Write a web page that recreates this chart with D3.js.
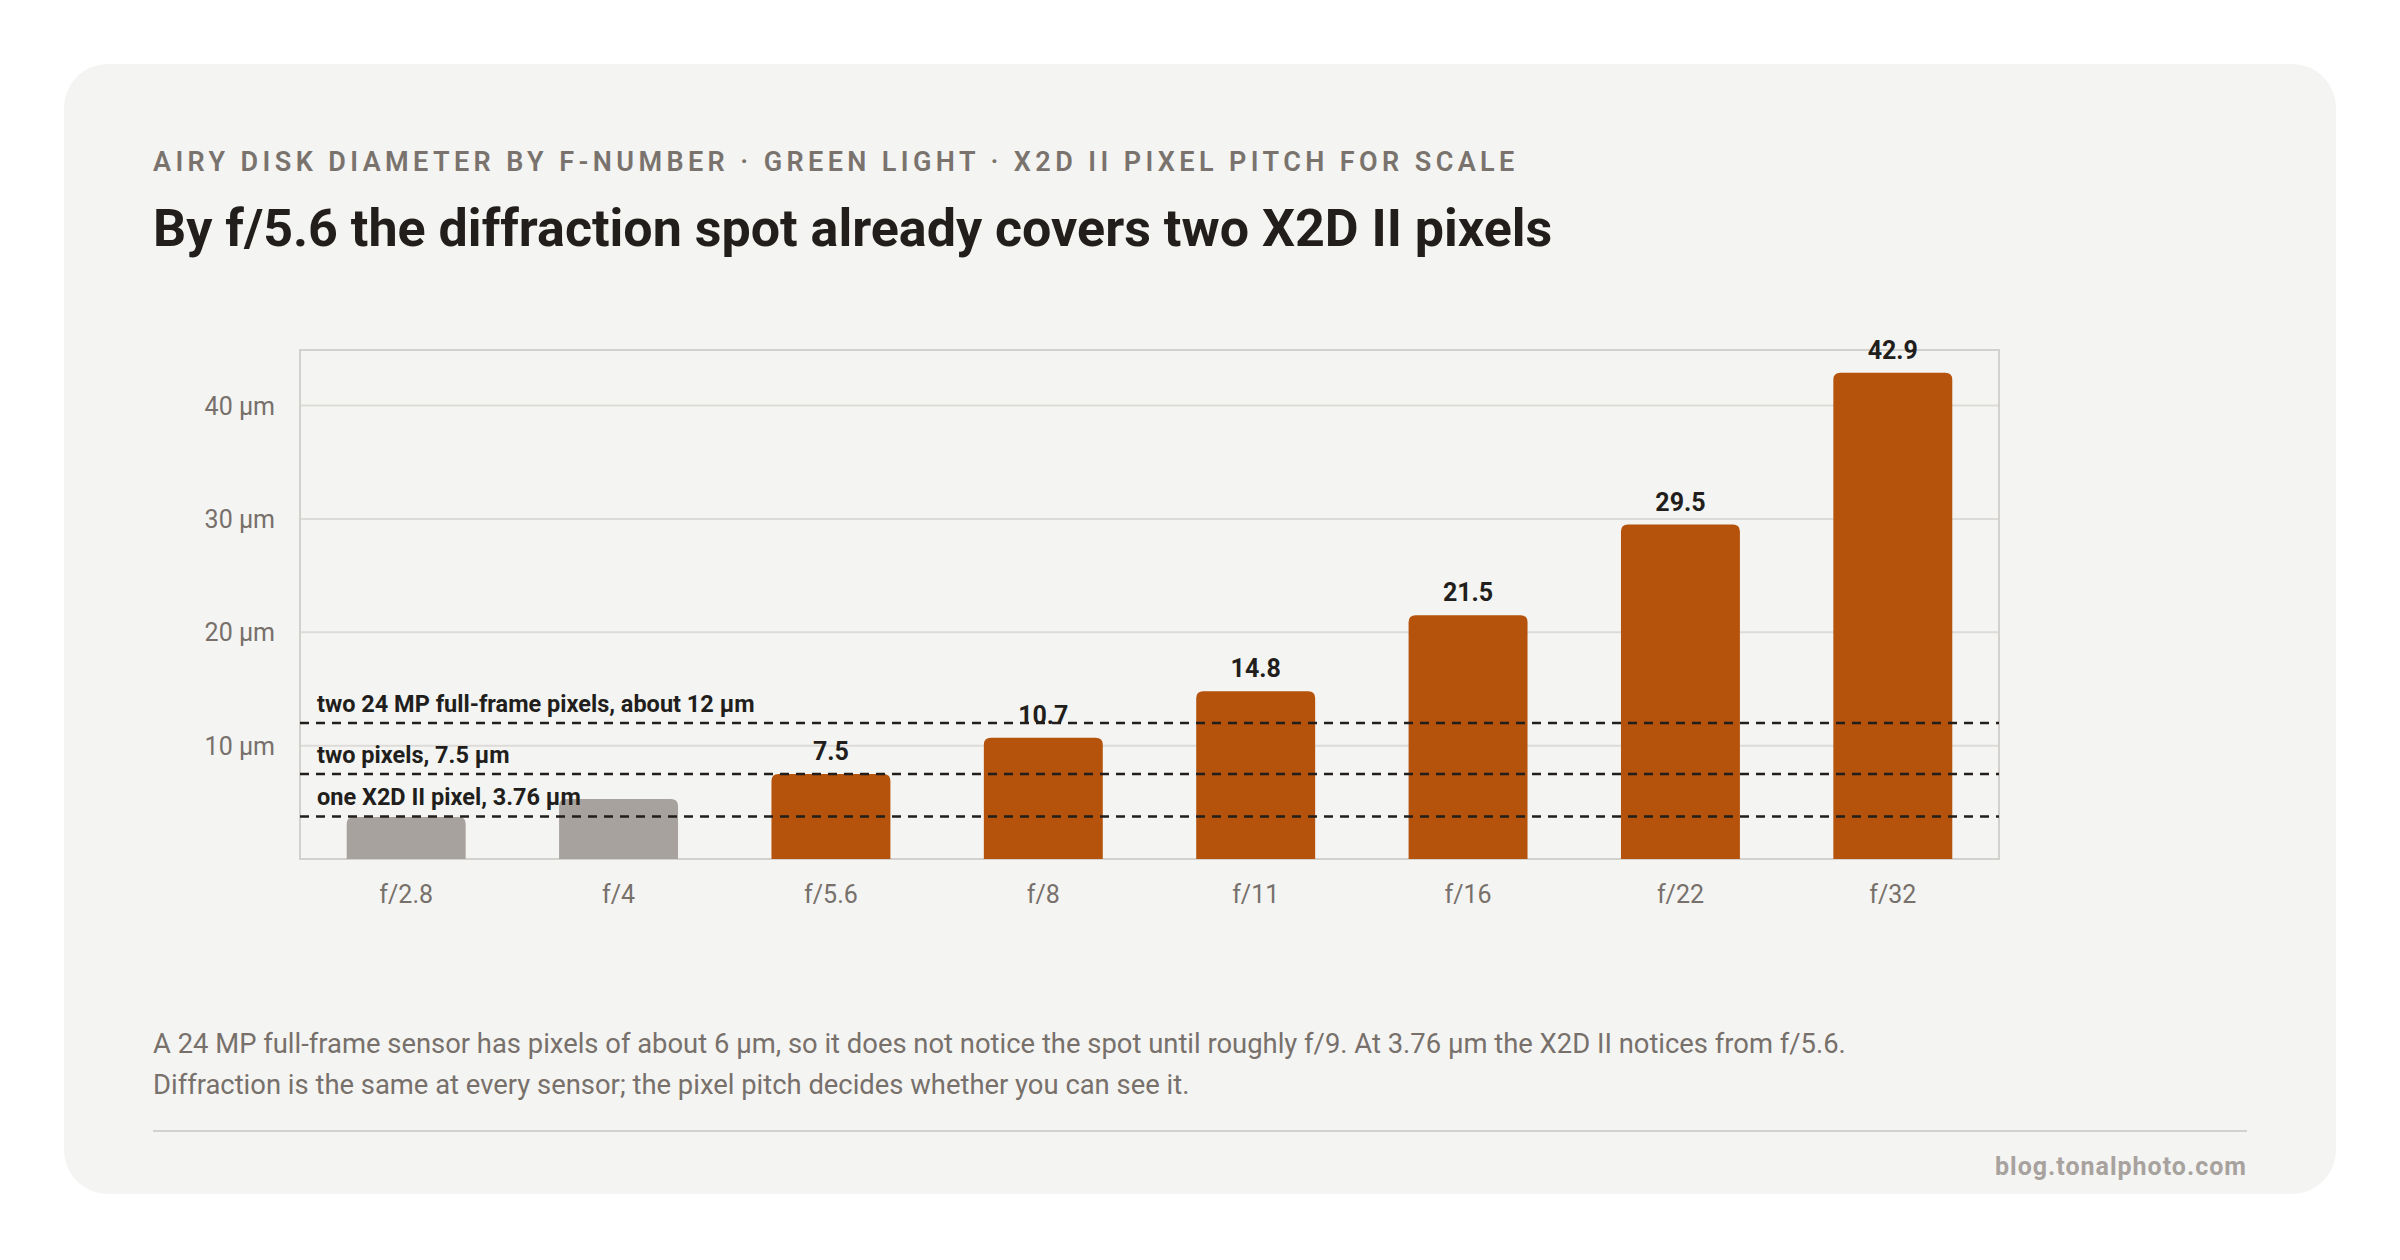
<!DOCTYPE html>
<html lang="en">
<head>
<meta charset="UTF-8">
<title>Airy disk</title>
<script src="https://d3js.org/d3.v7.min.js"></script>
<style>
  body { margin: 0; background: #fff; }
  text { font-family: Roboto, "Noto Sans", sans-serif; }
</style>
</head>
<body>
<script>
  const fNumbers = ["f/2.8", "f/4", "f/5.6", "f/8", "f/11", "f/16", "f/22", "f/32"];
  const diameters = [3.7, 5.3, 7.5, 10.7, 14.8, 21.5, 29.5, 42.9];
  const showLabel = [false, false, true, true, true, true, true, true];
  const yTicks = [10, 20, 30, 40];
  const refValues = [12, 7.5, 3.76];
  const refLabels = ["two 24 MP full-frame pixels, about 12 µm", "two pixels, 7.5 µm", "one X2D II pixel, 3.76 µm"];

  const W = 2400, H = 1260;
  const svg = d3.select("body").append("svg").attr("width", W).attr("height", H);

  // card
  svg.append("rect").attr("x", 64).attr("y", 64).attr("width", 2272).attr("height", 1130)
    .attr("rx", 44).attr("fill", "#f4f4f2");

  svg.append("text").attr("x", 153).attr("y", 171)
    .attr("font-size", 27).attr("font-weight", 600).attr("letter-spacing", 4.4).attr("fill", "#7a736d")
    .text("AIRY DISK DIAMETER BY F-NUMBER · GREEN LIGHT · X2D II PIXEL PITCH FOR SCALE");
  svg.append("text").attr("x", 153).attr("y", 246)
    .attr("font-size", 52).attr("font-weight", 700).attr("fill", "#211e1c")
    .text("By f/5.6 the diffraction spot already covers two X2D II pixels");

  const pLeft = 300, pRight = 1999, pTop = 350, pBottom = 859;
  const x = d3.scaleBand().domain(fNumbers).range([pLeft, pRight]).paddingInner(0.44).paddingOuter(0.22);
  const y = d3.scaleLinear().domain([0, 44.9]).range([pBottom, pTop]);

  // grid
  svg.append("g").selectAll("line").data(yTicks).join("line")
    .attr("x1", pLeft).attr("x2", pRight).attr("y1", d => y(d)).attr("y2", d => y(d))
    .attr("stroke", "#dddbd8").attr("stroke-width", 2);
  svg.append("rect").attr("x", pLeft).attr("y", pTop).attr("width", pRight - pLeft).attr("height", pBottom - pTop)
    .attr("fill", "none").attr("stroke", "#d3d1ce").attr("stroke-width", 2);

  svg.append("g").selectAll("text").data(yTicks).join("text")
    .attr("x", 275).attr("y", d => y(d) + 9).attr("text-anchor", "end")
    .attr("font-size", 25).attr("fill", "#77706b").text(d => d + " µm");

  // bars, rounded top only
  const r = 7;
  svg.append("g").selectAll("path").data(diameters).join("path")
    .attr("fill", (d, i) => showLabel[i] ? "#b5520b" : "#a8a29e")
    .attr("d", (d, i) => {
      const x0 = x(fNumbers[i]), w = x.bandwidth(), yt = y(d), yb = y(0);
      return `M${x0},${yb}V${yt + r}Q${x0},${yt} ${x0 + r},${yt}H${x0 + w - r}Q${x0 + w},${yt} ${x0 + w},${yt + r}V${yb}Z`;
    });

  svg.append("g").selectAll("text").data(diameters).join("text")
    .attr("x", (d, i) => x(fNumbers[i]) + x.bandwidth() / 2).attr("y", d => y(d) - 14)
    .attr("text-anchor", "middle").attr("font-size", 25).attr("font-weight", 700).attr("fill", "#211e1c")
    .text((d, i) => showLabel[i] ? d.toFixed(1) : "");

  svg.append("g").selectAll("text").data(fNumbers).join("text")
    .attr("x", d => x(d) + x.bandwidth() / 2).attr("y", 903)
    .attr("text-anchor", "middle").attr("font-size", 25).attr("fill", "#77706b").text(d => d);

  // reference lines
  svg.append("g").selectAll("line").data(refValues).join("line")
    .attr("x1", pLeft).attr("x2", pRight).attr("y1", d => y(d)).attr("y2", d => y(d))
    .attr("stroke", "#211e1c").attr("stroke-width", 2.5).attr("stroke-dasharray", "9,7");
  svg.append("g").selectAll("text").data(refValues).join("text")
    .attr("x", 317).attr("y", d => y(d) - 11)
    .attr("font-size", 23.5).attr("font-weight", 700).attr("fill", "#211e1c")
    .text((d, i) => refLabels[i]);

  // footnote
  const notes = ["A 24 MP full-frame sensor has pixels of about 6 µm, so it does not notice the spot until roughly f/9. At 3.76 µm the X2D II notices from f/5.6.",
    "Diffraction is the same at every sensor; the pixel pitch decides whether you can see it."];
  svg.append("g").selectAll("text").data(notes).join("text")
    .attr("x", 153).attr("y", (d, i) => 1053 + i * 41)
    .attr("font-size", 27.4).attr("fill", "#77706b").text(d => d);
  svg.append("line").attr("x1", 153).attr("x2", 2247).attr("y1", 1131).attr("y2", 1131)
    .attr("stroke", "#d3d1ce").attr("stroke-width", 2);
  svg.append("text").attr("x", 2247).attr("y", 1175).attr("text-anchor", "end")
    .attr("font-size", 25).attr("font-weight", 700).attr("letter-spacing", 1).attr("fill", "#a8a29e")
    .text("blog.tonalphoto.com");
</script>
</body>
</html>
